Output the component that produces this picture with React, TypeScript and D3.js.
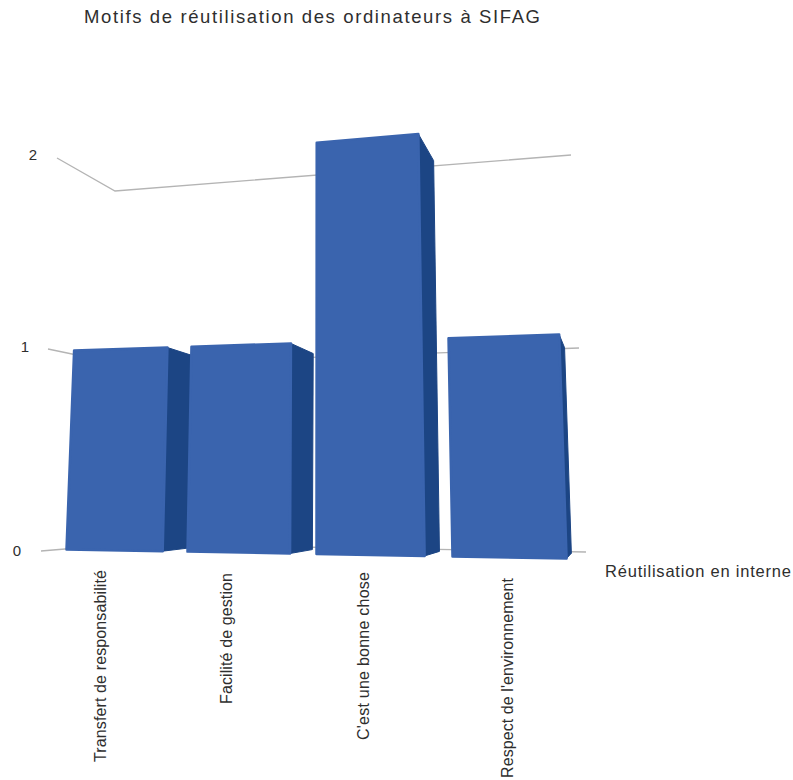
import React from "react";
import * as d3 from "d3";

// Chart content
const title = "Motifs de réutilisation des ordinateurs à SIFAG";
const categories = [
  "Transfert de responsabilité",
  "Facilité de gestion",
  "C'est une bonne chose",
  "Respect de l'environnement",
];
const values = [1, 1, 2, 1];
const seriesLabel = "Réutilisation en interne";
const valueTicks = [0, 1, 2];

const WIDTH = 793;
const HEIGHT = 780;
const FONT = "'Liberation Sans', Arial, sans-serif";
const FRONT = "#3a64ae";
const SIDE = "#1c4584";
const GRID = "#b4b4b4";
const INK = "#2e2e2e";

// Slot edges along the front of the floor; slots widen towards the viewer's right.
const slotX = d3.scaleLinear().domain([0, 1, 2, 3, 4]).range([66.5, 187.5, 316.5, 452.5, 596]);
const barFraction = 0.795;

// Oblique perspective: verticals lean to a centre line, horizontals tilt with height.
const centreX = 320;
const lean = d3.scaleLinear().domain([0, 2]).range([1, 0.94]);
const baseline = d3.scaleLinear().domain([0, 1, 2]).range([554, 342.5, 142.5]);
const tilt = d3.scaleLinear().domain([0, 1, 2]).range([0.018, -0.032, -0.082]);

// Depth recedes towards a vanishing point; the recession grows to the right.
const vanish = { x: 625, y: 495 };
const recede = d3.scaleLinear().domain([60, 570]).range([0.054, 0.082]);

type Pt = [number, number];

function project(slot: number, v: number, depth: number): Pt {
  const sx = slotX(slot);
  const x = centreX + (sx - centreX) * lean(v);
  const y = baseline(v) + tilt(v) * (sx - centreX);
  const t = recede(sx) * depth;
  return [x + (vanish.x - x) * t, y + (vanish.y - y) * t];
}

const polygon = d3.line<Pt>().curve(d3.curveLinearClosed);

// Wall gridline anchor points, one scale per vertical edge of the chart box.
const wallLeft = {
  x: d3.scaleLinear().domain([0, 1, 2]).range([41, 48, 57]),
  y: d3.scaleLinear().domain([0, 1, 2]).range([551, 349, 158]),
};
const wallCorner = {
  x: d3.scaleLinear().domain([0, 1, 2]).range([125, 120, 115]),
  y: d3.scaleLinear().domain([0, 1, 2]).range([544, 364, 191]),
};
const wallRight = {
  x: d3.scaleLinear().domain([0, 1, 2]).range([586, 579, 571]),
  y: d3.scaleLinear().domain([0, 1, 2]).range([552, 348, 155]),
};
const tickLabelX = d3.scaleLinear().domain([0, 2]).range([17, 33]);
const tickLabelY = d3.scaleLinear().domain([0, 1, 2]).range([550, 346, 154]);

const categoryLabelX = [101, 227, 364, 508];
const categoryLabelTop = [570, 573, 572, 578];
const categoryLabelLength = [192, 131, 168, 200];

export default function App() {
  return (
    <svg
      width={WIDTH}
      height={HEIGHT}
      viewBox={`0 0 ${WIDTH} ${HEIGHT}`}
      style={{ position: "absolute", left: 0, top: 0, background: "#fff" }}
      fontFamily={FONT}
    >
      <text x={84} y={23} fontSize={18.5} fill={INK} textLength={456} lengthAdjust="spacing">
        {title}
      </text>

      {valueTicks.map((v) => (
        <g key={v}>
          <polyline
            points={[
              [wallLeft.x(v), wallLeft.y(v)],
              [wallCorner.x(v), wallCorner.y(v)],
              [wallRight.x(v), wallRight.y(v)],
            ].join(" ")}
            fill="none"
            stroke={GRID}
            strokeWidth={1.3}
          />
          <text
            x={tickLabelX(v)}
            y={tickLabelY(v)}
            fontSize={15}
            fill={INK}
            textAnchor="middle"
            dominantBaseline="central"
          >
            {v}
          </text>
        </g>
      ))}

      {values.map((v, i) => {
        const l = i;
        const r = i + barFraction;
        const front: Pt[] = [project(l, 0, 0), project(r, 0, 0), project(r, v, 0), project(l, v, 0)];
        const side: Pt[] = [project(r, 0, 0), project(r, 0, 1), project(r, v, 1), project(r, v, 0)];
        return (
          <g key={categories[i]}>
            <path d={polygon(side) ?? ""} fill={SIDE} stroke={SIDE} strokeWidth={1} strokeLinejoin="round" />
            <path d={polygon(front) ?? ""} fill={FRONT} stroke={FRONT} strokeWidth={2.5} strokeLinejoin="round" />
          </g>
        );
      })}

      {categories.map((c, i) => (
        <text
          key={c}
          transform={`translate(${categoryLabelX[i] + 5},${categoryLabelTop[i]}) rotate(-90)`}
          fontSize={16}
          fill={INK}
          textAnchor="end"
          textLength={categoryLabelLength[i]}
          lengthAdjust="spacing"
        >
          {c}
        </text>
      ))}

      <text x={605} y={577} fontSize={16.5} fill={INK} textLength={186} lengthAdjust="spacing">
        {seriesLabel}
      </text>
    </svg>
  );
}
